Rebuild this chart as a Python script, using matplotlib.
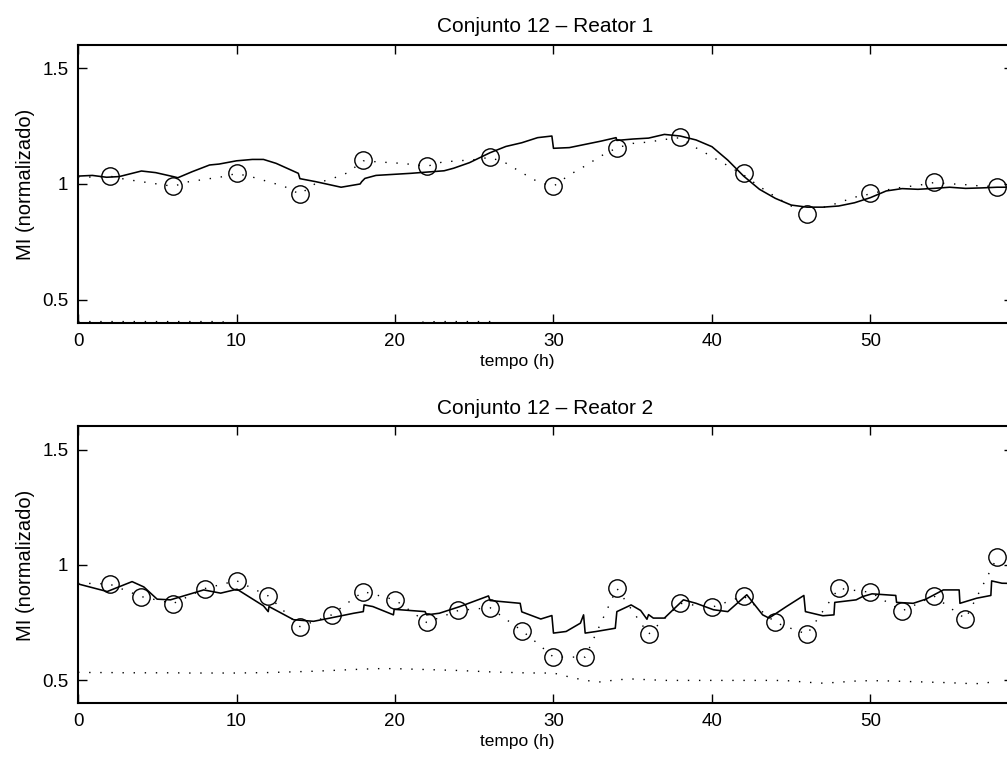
import numpy as np
import matplotlib

matplotlib.use("Agg")
import matplotlib.pyplot as plt

plt.rcParams["font.family"] = ["Liberation Sans", "DejaVu Sans"]
plt.rcParams["font.size"] = 12.5

# --- Reator 1 ---
r1_meas_t = [2, 6, 10, 14, 18, 22, 26, 30, 34, 38, 42, 46, 50, 54, 58]
r1_meas = [1.034, 0.990, 1.049, 0.956, 1.102, 1.076, 1.115, 0.990, 1.156,
           1.203, 1.049, 0.871, 0.963, 1.010, 0.989]

r1_model_t = [0, 0.9, 1.8, 2.6, 4.0, 4.9, 6.0, 6.3, 7.2, 8.3, 8.9, 10.0, 11.0,
              11.7, 12.5, 13.9, 14.0, 15.0, 16.6, 17.8, 17.9, 18.1, 18.8,
              21.0, 23.1, 23.7, 24.7, 26.0, 27.0, 28.0, 29.0, 29.9, 30.0,
              31.0, 32.0, 33.0, 33.95, 34.0, 35.0, 36.0, 37.0, 38.0, 39.0,
              40.0, 41.0, 42.0, 43.0, 44.0, 45.0, 46.0, 47.0, 48.0, 49.0,
              50.0, 51.0, 52.0, 53.0, 54.0, 55.0, 56.0, 57.0, 58.0, 59.0]
r1_model = [1.034, 1.037, 1.029, 1.032, 1.056, 1.049, 1.032, 1.027, 1.053,
            1.082, 1.086, 1.100, 1.106, 1.106, 1.089, 1.046, 1.023, 1.010,
            0.986, 1.000, 1.010, 1.024, 1.037, 1.046, 1.057, 1.068, 1.092,
            1.135, 1.162, 1.178, 1.200, 1.207, 1.154, 1.157, 1.171, 1.185,
            1.200, 1.188, 1.194, 1.198, 1.214, 1.207, 1.190, 1.161, 1.103,
            1.034, 0.977, 0.938, 0.909, 0.900, 0.900, 0.905, 0.919, 0.941,
            0.970, 0.980, 0.977, 0.981, 0.986, 0.981, 0.983, 0.986, 0.986]

hours = np.arange(0, 59)
r1_est = [1.030, 1.030, 1.034, 1.020, 1.010, 1.000, 0.990, 1.010, 1.020,
          1.030, 1.045, 1.030, 1.010, 0.990, 0.956, 1.003, 1.022, 1.048,
          1.100, 1.095, 1.091, 1.085, 1.076, 1.095, 1.100, 1.105, 1.115,
          1.090, 1.049, 1.010, 0.990, 1.039, 1.078, 1.121, 1.156, 1.175,
          1.181, 1.192, 1.200, 1.156, 1.118, 1.079, 1.039, 0.989, 0.945,
          0.905, 0.895, 0.898, 0.919, 0.943, 0.957, 0.974, 0.986, 0.994,
          1.006, 1.001, 0.997, 0.991, 0.989]
r1_aux = [0.406, 0.406, 0.406, 0.406, 0.406, 0.406, 0.406, 0.406, 0.406,
          0.406, 0.396, 0.395, 0.395, 0.394, 0.394, 0.394, 0.394, 0.395,
          0.395, 0.396, 0.397, 0.399, 0.405, 0.406, 0.406, 0.406, 0.406,
          0.397, 0.392, 0.390, 0.390, 0.390, 0.390, 0.390, 0.390, 0.390,
          0.390, 0.390, 0.390, 0.390, 0.390, 0.390, 0.390, 0.390, 0.390,
          0.390, 0.390, 0.390, 0.390, 0.390, 0.390, 0.390, 0.390, 0.390,
          0.390, 0.390, 0.390, 0.390, 0.390]

# --- Reator 2 ---
r2_meas_t = list(range(2, 59, 2))
r2_meas = [0.917, 0.863, 0.833, 0.898, 0.932, 0.866, 0.733, 0.784, 0.885,
           0.849, 0.751, 0.803, 0.815, 0.716, 0.601, 0.601, 0.899, 0.700,
           0.834, 0.817, 0.866, 0.751, 0.700, 0.899, 0.882, 0.801, 0.866,
           0.767, 1.033]

r2_model_t = [0, 1.84, 3.41, 4.15, 4.99, 5.83, 7.93, 9.0, 10.03, 11.7, 12.0,
              12.05, 13.6, 14.86, 15.9, 17.4, 18.0, 18.05, 18.6, 19.9, 19.95,
              21.9, 22.0, 22.8, 24.1, 25.9, 26.0, 27.9, 28.0, 29.2, 29.9,
              30.0, 30.8, 31.7, 31.9, 32.0, 32.7, 33.9, 34.0, 34.9, 35.5,
              35.9, 36.0, 36.3, 37.0, 38.2, 39.0, 40.1, 41.0, 42.2, 43.2,
              43.6, 44.7, 45.8, 45.9, 47.0, 47.7, 47.75, 49.1, 49.5, 50.1,
              51.6, 51.65, 52.7, 53.5, 54.6, 55.6, 55.65, 56.7, 57.6, 57.65,
              58.3, 59.0]
r2_model = [0.918, 0.885, 0.928, 0.905, 0.852, 0.849, 0.892, 0.878, 0.895,
            0.823, 0.798, 0.820, 0.763, 0.756, 0.770, 0.791, 0.798, 0.827,
            0.820, 0.784, 0.808, 0.798, 0.784, 0.791, 0.820, 0.866, 0.846,
            0.834, 0.797, 0.766, 0.781, 0.705, 0.712, 0.748, 0.784, 0.705,
            0.712, 0.726, 0.798, 0.827, 0.803, 0.765, 0.785, 0.770, 0.770,
            0.849, 0.834, 0.806, 0.798, 0.871, 0.784, 0.770, 0.820, 0.868,
            0.798, 0.780, 0.784, 0.838, 0.849, 0.863, 0.875, 0.868, 0.838,
            0.834, 0.852, 0.892, 0.892, 0.834, 0.856, 0.868, 0.931, 0.921,
            0.920]

r2_est = [0.920, 0.920, 0.917, 0.890, 0.863, 0.848, 0.833, 0.865, 0.898,
          0.915, 0.932, 0.899, 0.866, 0.800, 0.733, 0.758, 0.784, 0.835,
          0.885, 0.867, 0.849, 0.800, 0.751, 0.777, 0.803, 0.809, 0.815,
          0.765, 0.716, 0.660, 0.601, 0.601, 0.601, 0.750, 0.899, 0.800,
          0.700, 0.767, 0.834, 0.825, 0.817, 0.841, 0.866, 0.808, 0.751,
          0.725, 0.700, 0.800, 0.899, 0.890, 0.882, 0.841, 0.801, 0.833,
          0.866, 0.816, 0.767, 0.900, 1.033]
r2_aux = [0.535, 0.534, 0.534, 0.533, 0.533, 0.533, 0.533, 0.532, 0.532,
          0.532, 0.532, 0.533, 0.534, 0.536, 0.538, 0.540, 0.543, 0.546,
          0.549, 0.551, 0.551, 0.549, 0.547, 0.545, 0.543, 0.540, 0.537,
          0.535, 0.533, 0.532, 0.532, 0.515, 0.500, 0.493, 0.503, 0.506,
          0.503, 0.500, 0.500, 0.500, 0.500, 0.500, 0.500, 0.500, 0.500,
          0.498, 0.492, 0.488, 0.492, 0.497, 0.499, 0.498, 0.496, 0.494,
          0.492, 0.490, 0.487, 0.486, 0.497]

panels = [
    ("Conjunto 12 \u2013 Reator 1", r1_meas_t, r1_meas, r1_model_t, r1_model,
     r1_est, r1_aux),
    ("Conjunto 12 \u2013 Reator 2", r2_meas_t, r2_meas, r2_model_t, r2_model,
     r2_est, r2_aux),
]

fig = plt.figure(figsize=(10.07, 7.65), dpi=100)
ax_rects = [
    [0.0775, 0.5778, 0.9285, 0.3634],
    [0.0775, 0.0804, 0.9285, 0.3621],
]

dot_style = (0, (1, 7))

for rect, (title, mt, mv, st, sv, est, aux) in zip(ax_rects, panels):
    ax = fig.add_axes(rect)
    ax.plot(hours, aux, color="black", linestyle=dot_style, linewidth=1.0)
    ax.plot(hours, est, color="black", linestyle=dot_style, linewidth=1.0)
    ax.plot(st, sv, color="black", linewidth=1.15)
    ax.plot(mt, mv, linestyle="none", marker="o", markersize=12.5,
            markerfacecolor="none", markeredgecolor="black",
            markeredgewidth=1.0)

    ax.set_xlim(0, 59)
    ax.set_ylim(0.4, 1.6)
    ax.set_xticks([0, 10, 20, 30, 40, 50])
    ax.set_yticks([0.5, 1, 1.5])
    ax.set_yticklabels(["0.5", "1", "1.5"])
    ax.tick_params(direction="in", length=6.5, width=1.0, pad=7,
                   top=True, right=True, labelsize=13.5)
    for sp in ax.spines.values():
        sp.set_linewidth(1.5)

    ax.set_title(title, pad=9)
    ax.set_xlabel("tempo (h)", labelpad=3, x=0.4695)
    ax.set_ylabel("MI (normalizado)", labelpad=5, fontsize=14.5)

fig.savefig("out.png", dpi=100)
